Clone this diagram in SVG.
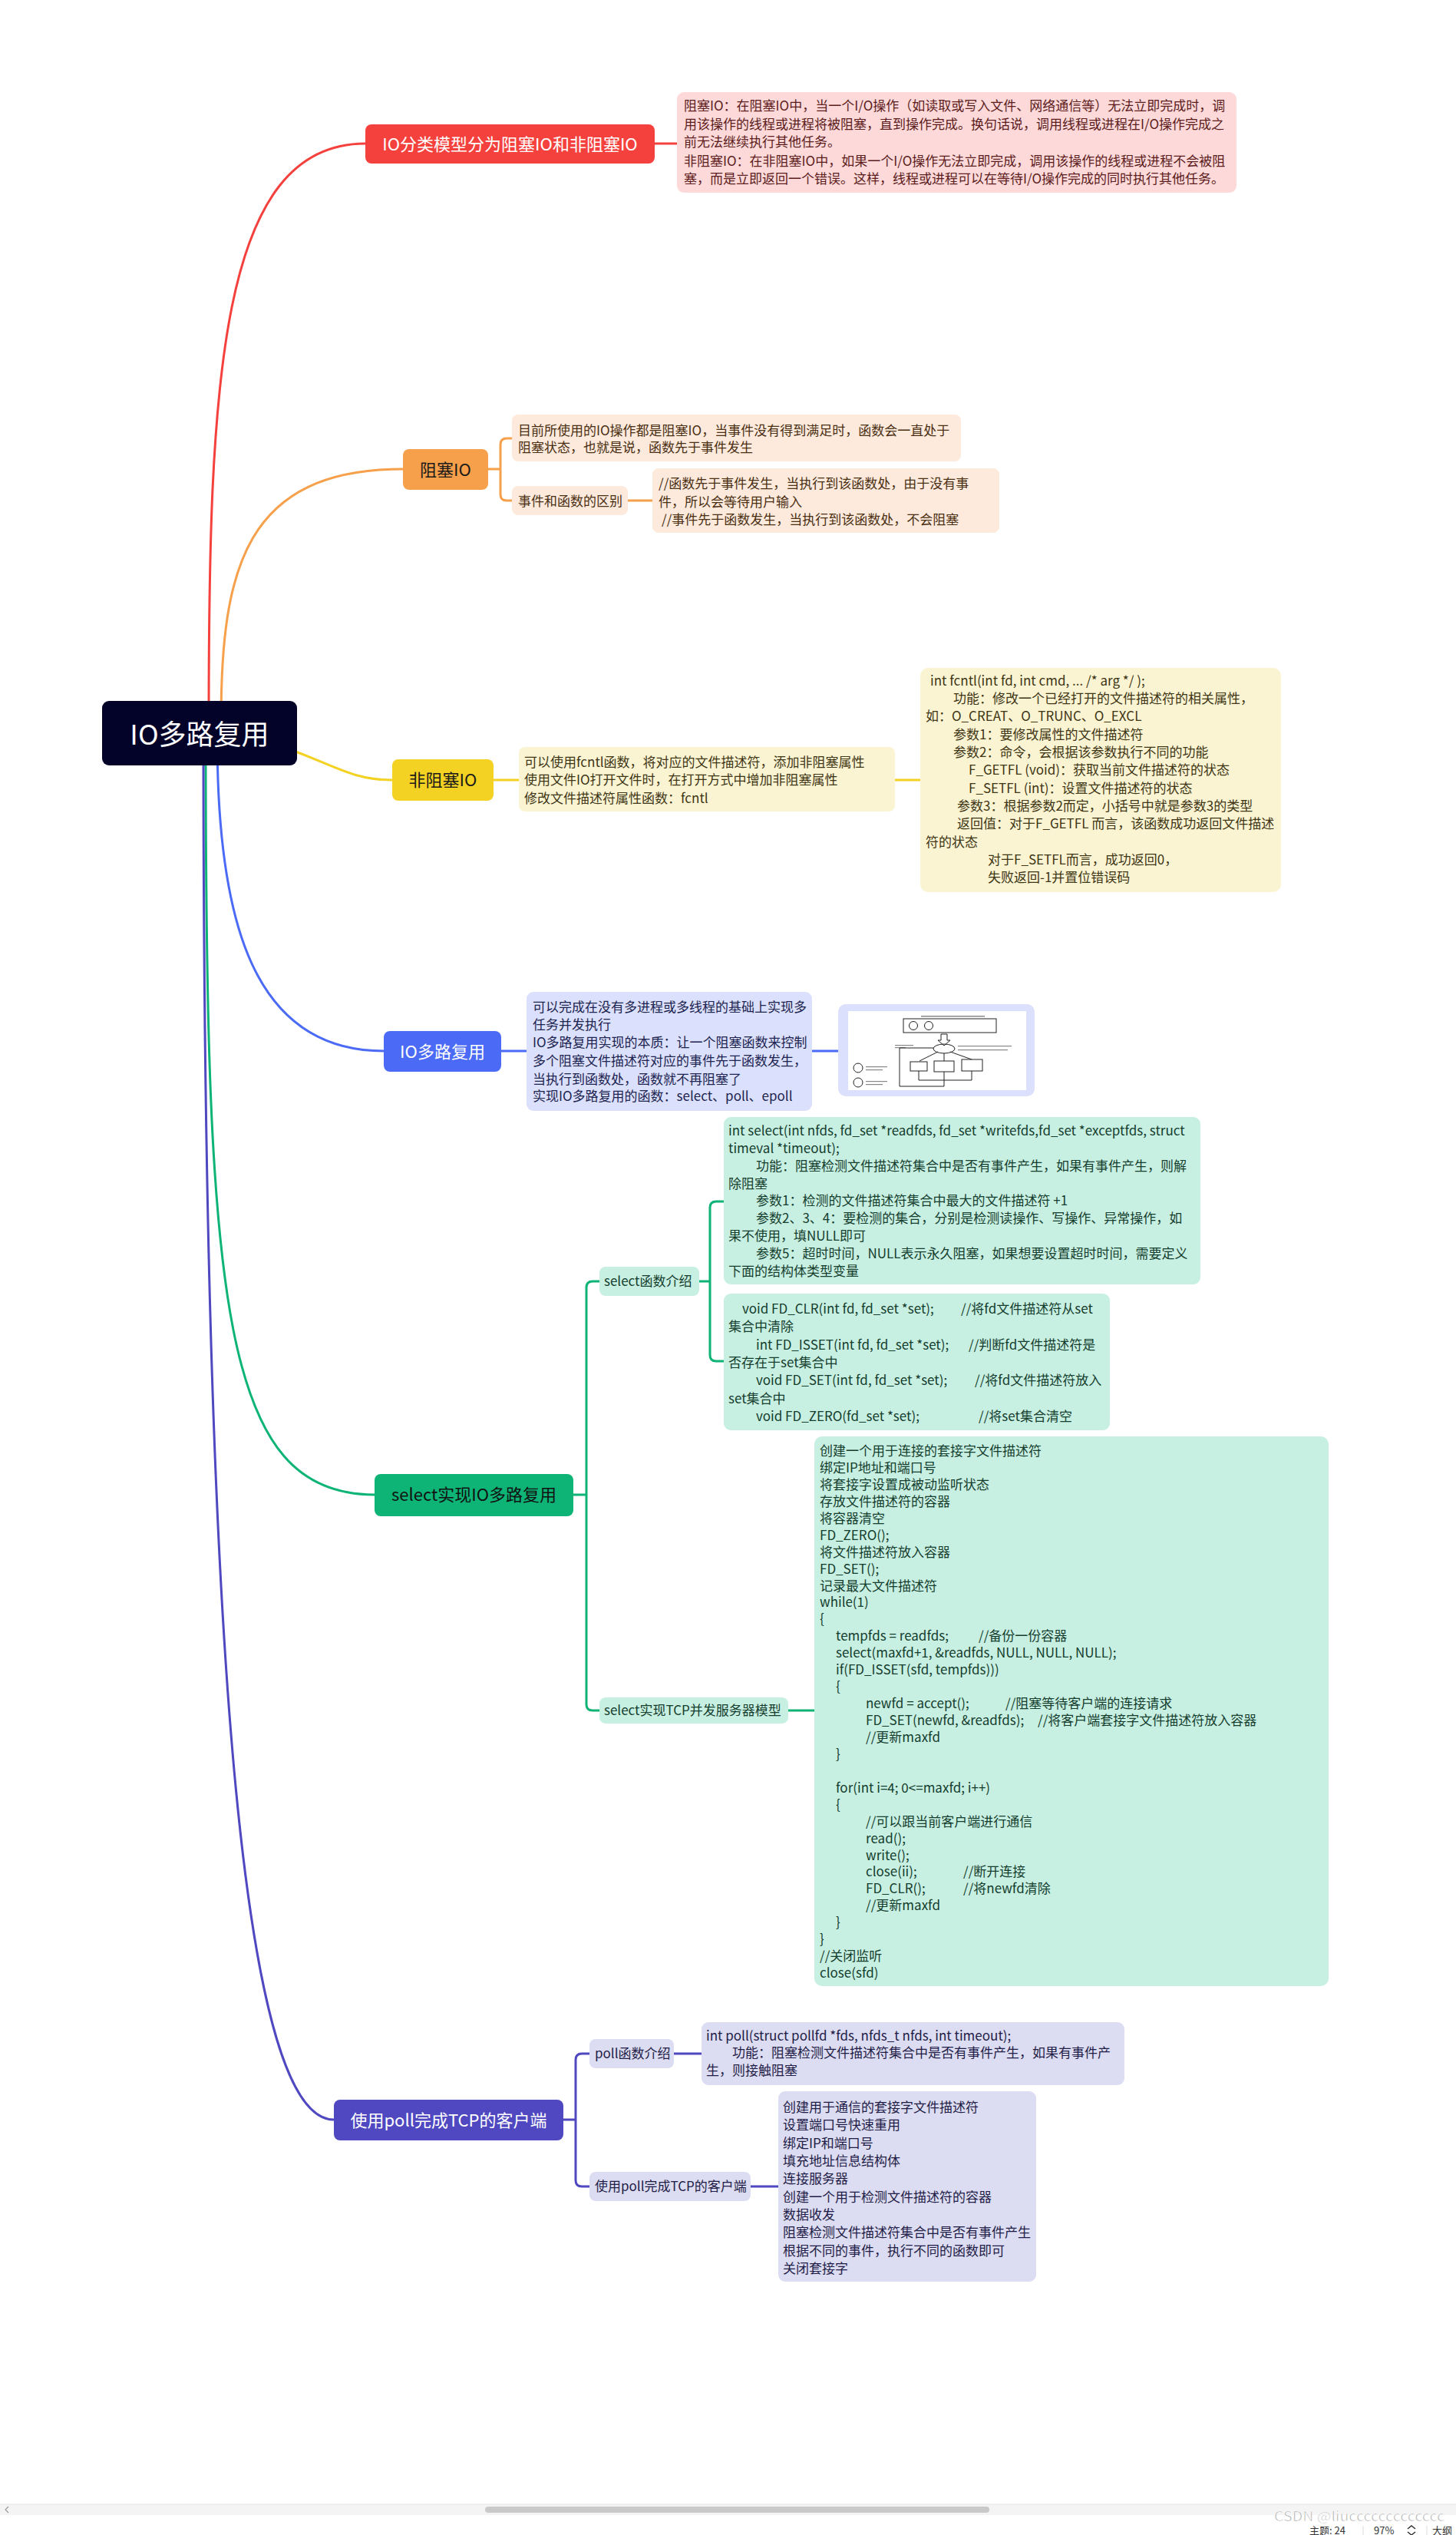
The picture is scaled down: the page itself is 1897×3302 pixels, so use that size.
<svg xmlns="http://www.w3.org/2000/svg" width="1897" height="3302" viewBox="0 0 1897 3302">
<style>
text{font-family:"Noto Sans CJK SC","Noto Sans",sans-serif}
.t{font-size:17px}
.n{font-size:22px;text-anchor:middle}
.s{font-size:17px}
.red{fill:#5c1c1c}.org{fill:#4a2e12}.yel{fill:#3e3514}.blu{fill:#1d2450}.grn{fill:#143d2e}.pur{fill:#1f1c47}
.cr{stroke:#f5413d}.co{stroke:#f7a04b}.cy{stroke:#f3d223}.cb{stroke:#4b6bf6}.cg{stroke:#0db476}.cp{stroke:#4f48c0}
.fl{fill:none;stroke:#222;stroke-width:1}
.tl{fill:#888}
</style>
<rect width="1897" height="3302" fill="#ffffff"/>
<g id="connectors" fill="none" stroke-width="3">
<path class="cr" d="M272 940 C272 500 285 187 476 187"/>
<path class="co" d="M288 940 C288 740 320 611 525 611"/>
<path class="cy" d="M330 960 C430 990 450 1016 511 1016"/>
<path class="cb" d="M283 960 C283 1200 330 1369 500 1369"/>
<path class="cg" d="M268 960 C268 1700 290 1947 488 1947"/>
<path class="cp" d="M265 960 C265 2200 320 2761 435 2761"/>
<path class="cr" d="M853 187 H882"/>
<path class="co" d="M636 611 H652 M667 571 H660 Q652 571 652 579 V644 Q652 652 660 652 H667 M818 652 H850"/>
<path class="cy" d="M643 1016 H676 M1166 1016 H1199"/>
<path class="cb" d="M653 1369 H686 M1058 1369 H1092"/>
<path class="cg" d="M747 1947 H764 M781 1669 H772 Q764 1669 764 1677 V2220 Q764 2228 772 2228 H781"/>
<path class="cg" d="M911 1669 H925 M943 1565 H933 Q925 1565 925 1573 V1765 Q925 1773 933 1773 H943 M1027 2228 H1061"/>
<path class="cp" d="M734 2761 H750 M768 2675 H758 Q750 2675 750 2683 V2840 Q750 2848 758 2848 H768 M878 2675 H914 M978 2848 H1014"/>
</g>
<g id="root">
<rect x="133" y="913" width="254" height="84" rx="9" fill="#03032a"/>
<text x="260" y="970" font-size="36" text-anchor="middle" fill="#ffffff">IO多路复用</text>
</g>
<g id="n-classify">
<rect x="476" y="162" width="377" height="51" rx="8" fill="#f5413d"/>
<text class="n" x="664.5" y="195.5" fill="#ffffff">IO分类模型分为阻塞IO和非阻塞IO</text>
</g>
<g id="n-classify-note">
<rect x="882" y="120" width="729" height="131" rx="9" fill="#fdd9d9"/>
<text class="t red" x="891" y="144">阻塞IO：在阻塞IO中，当一个I/O操作（如读取或写入文件、网络通信等）无法立即完成时，调</text>
<text class="t red" x="891" y="168">用该操作的线程或进程将被阻塞，直到操作完成。换句话说，调用线程或进程在I/O操作完成之</text>
<text class="t red" x="891" y="191">前无法继续执行其他任务。</text>
<text class="t red" x="891" y="216">非阻塞IO：在非阻塞IO中，如果一个I/O操作无法立即完成，调用该操作的线程或进程不会被阻</text>
<text class="t red" x="891" y="239">塞，而是立即返回一个错误。这样，线程或进程可以在等待I/O操作完成的同时执行其他任务。</text>
</g>
<g id="n-block">
<rect x="525" y="585" width="111" height="53" rx="8" fill="#f7a04b"/>
<text class="n" x="580.5" y="619.5" fill="#1a1a1a">阻塞IO</text>
</g>
<g id="n-block-note1">
<rect x="667" y="540" width="585" height="61" rx="8" fill="#fdeadc"/>
<text class="t org" x="675" y="567">目前所使用的IO操作都是阻塞IO，当事件没有得到满足时，函数会一直处于</text>
<text class="t org" x="675" y="589">阻塞状态，也就是说，函数先于事件发生</text>
</g>
<g id="n-block-diff">
<rect x="667" y="633" width="151" height="38" rx="8" fill="#fdeadc"/>
<text class="t org" x="675" y="659">事件和函数的区别</text>
</g>
<g id="n-block-diff-note">
<rect x="850" y="610" width="452" height="84" rx="8" fill="#fdeadc"/>
<text class="t org" x="858" y="636">//函数先于事件发生，当执行到该函数处，由于没有事</text>
<text class="t org" x="858" y="660">件，所以会等待用户输入</text>
<text class="t org" x="862" y="683">//事件先于函数发生，当执行到该函数处，不会阻塞</text>
</g>
<g id="n-nonblock">
<rect x="511" y="989" width="132" height="54" rx="8" fill="#f3d223"/>
<text class="n" x="577" y="1024" fill="#1a1a1a">非阻塞IO</text>
</g>
<g id="n-nonblock-note">
<rect x="676" y="973" width="490" height="84" rx="8" fill="#fbf4d3"/>
<text class="t yel" x="683" y="999">可以使用fcntl函数，将对应的文件描述符，添加非阻塞属性</text>
<text class="t yel" x="683" y="1022">使用文件IO打开文件时，在打开方式中增加非阻塞属性</text>
<text class="t yel" x="683" y="1046">修改文件描述符属性函数：fcntl</text>
</g>
<g id="n-fcntl">
<rect x="1199" y="870" width="470" height="292" rx="10" fill="#fbf4d3"/>
<text class="t yel" x="1212" y="893">int fcntl(int fd, int cmd, ... /* arg */ );</text>
<text class="t yel" x="1242" y="916">功能：修改一个已经打开的文件描述符的相关属性，</text>
<text class="t yel" x="1206" y="939">如：O_CREAT、O_TRUNC、O_EXCL</text>
<text class="t yel" x="1242" y="963">参数1：要修改属性的文件描述符</text>
<text class="t yel" x="1242" y="986">参数2：命令，会根据该参数执行不同的功能</text>
<text class="t yel" x="1262" y="1009">F_GETFL (void)：获取当前文件描述符的状态</text>
<text class="t yel" x="1262" y="1033">F_SETFL (int)：设置文件描述符的状态</text>
<text class="t yel" x="1247" y="1056">参数3：根据参数2而定，小括号中就是参数3的类型</text>
<text class="t yel" x="1247" y="1079">返回值：对于F_GETFL 而言，该函数成功返回文件描述</text>
<text class="t yel" x="1206" y="1103">符的状态</text>
<text class="t yel" x="1287" y="1126">对于F_SETFL而言，成功返回0，</text>
<text class="t yel" x="1287" y="1149">失败返回-1并置位错误码</text>
</g>
<g id="n-mux">
<rect x="500" y="1343" width="153" height="53" rx="8" fill="#4b6bf6"/>
<text class="n" x="576.5" y="1378" fill="#ffffff">IO多路复用</text>
</g>
<g id="n-mux-note">
<rect x="686" y="1292" width="372" height="155" rx="9" fill="#dbe0fc"/>
<text class="t blu" x="694" y="1318">可以完成在没有多进程或多线程的基础上实现多</text>
<text class="t blu" x="694" y="1341">任务并发执行</text>
<text class="t blu" x="694" y="1364">IO多路复用实现的本质：让一个阻塞函数来控制</text>
<text class="t blu" x="694" y="1388">多个阻塞文件描述符对应的事件先于函数发生，</text>
<text class="t blu" x="694" y="1412">当执行到函数处，函数就不再阻塞了</text>
<text class="t blu" x="694" y="1434">实现IO多路复用的函数：select、poll、epoll</text>
</g>
<g id="n-mux-figure">
<rect x="1092" y="1308" width="256" height="120" rx="10" fill="#dbe0fc"/>
<rect x="1105" y="1317" width="232" height="103" fill="#ffffff"/>
<rect class="tl" x="1200" y="1323" width="83" height="1.5"/>
<rect class="fl" x="1177" y="1327" width="121" height="18"/>
<circle class="fl" cx="1190" cy="1336" r="5.5"/>
<circle class="fl" cx="1210" cy="1336" r="5.5"/>
<path class="fl" d="M1226 1347 V1355 H1222 L1230 1362 L1238 1355 H1234 V1347 Z"/>
<ellipse class="fl" cx="1230" cy="1366" rx="14" ry="6"/>
<rect class="tl" x="1166" y="1361" width="24" height="1.2"/>
<rect class="tl" x="1166" y="1364" width="14" height="1.2"/>
<rect class="tl" x="1248" y="1362" width="70" height="1.2"/>
<rect class="tl" x="1248" y="1367" width="65" height="1.2"/>
<rect class="fl" x="1186" y="1383" width="22" height="12"/>
<rect class="fl" x="1217" y="1382" width="26" height="14"/>
<rect class="fl" x="1253" y="1380" width="27" height="15"/>
<path class="fl" d="M1222 1370 L1198 1382 M1230 1372 V1382 M1238 1370 L1266 1380"/>
<path class="fl" d="M1197 1395 V1407 H1266 V1395 M1216 1365 H1172 V1415 H1230 V1396"/>
<circle class="fl" cx="1118" cy="1391" r="6"/>
<circle class="fl" cx="1118" cy="1410" r="6"/>
<rect class="tl" x="1128" y="1389" width="28" height="1.2"/>
<rect class="tl" x="1128" y="1393" width="22" height="1.2"/>
<rect class="tl" x="1128" y="1408" width="28" height="1.2"/>
<rect class="tl" x="1128" y="1412" width="22" height="1.2"/>
</g>
<g id="n-select">
<rect x="488" y="1920" width="259" height="55" rx="8" fill="#0db476"/>
<text class="n" x="617.5" y="1955" fill="#111111">select实现IO多路复用</text>
</g>
<g id="n-select-intro">
<rect x="781" y="1650" width="130" height="38" rx="8" fill="#c8f0e2"/>
<text class="s grn" x="787" y="1675">select函数介绍</text>
</g>
<g id="n-select-sig">
<rect x="943" y="1455" width="621" height="218" rx="9" fill="#c8f0e2"/>
<text class="t grn" x="949" y="1479">int select(int nfds, fd_set *readfds, fd_set *writefds,fd_set *exceptfds, struct</text>
<text class="t grn" x="949" y="1502">timeval *timeout);</text>
<text class="t grn" x="985" y="1525">功能：阻塞检测文件描述符集合中是否有事件产生，如果有事件产生，则解</text>
<text class="t grn" x="949" y="1548">除阻塞</text>
<text class="t grn" x="985" y="1570">参数1：检测的文件描述符集合中最大的文件描述符 +1</text>
<text class="t grn" x="985" y="1593">参数2、3、4：要检测的集合，分别是检测读操作、写操作、异常操作，如</text>
<text class="t grn" x="949" y="1616">果不使用，填NULL即可</text>
<text class="t grn" x="985" y="1639">参数5：超时时间，NULL表示永久阻塞，如果想要设置超时时间，需要定义</text>
<text class="t grn" x="949" y="1662">下面的结构体类型变量</text>
</g>
<g id="n-select-macros">
<rect x="943" y="1685" width="503" height="178" rx="9" fill="#c8f0e2"/>
<text class="t grn" y="1711"><tspan x="967">void FD_CLR(int fd, fd_set *set);</tspan><tspan x="1252">//将fd文件描述符从set</tspan></text>
<text class="t grn" x="949" y="1734">集合中清除</text>
<text class="t grn" y="1758"><tspan x="985">int  FD_ISSET(int fd, fd_set *set);</tspan><tspan x="1262">//判断fd文件描述符是</tspan></text>
<text class="t grn" x="949" y="1781">否存在于set集合中</text>
<text class="t grn" y="1804"><tspan x="985">void FD_SET(int fd, fd_set *set);</tspan><tspan x="1270">//将fd文件描述符放入</tspan></text>
<text class="t grn" x="949" y="1828">set集合中</text>
<text class="t grn" y="1851"><tspan x="985">void FD_ZERO(fd_set *set);</tspan><tspan x="1275">//将set集合清空</tspan></text>
</g>
<g id="n-select-tcp">
<rect x="781" y="2211" width="246" height="34" rx="8" fill="#c8f0e2"/>
<text class="s grn" x="787" y="2234">select实现TCP并发服务器模型</text>
</g>
<g id="n-select-code">
<rect x="1061" y="1871" width="670" height="716" rx="10" fill="#c8f0e2"/>
<text class="t grn" x="1068" y="1896">创建一个用于连接的套接字文件描述符</text>
<text class="t grn" x="1068" y="1918">绑定IP地址和端口号</text>
<text class="t grn" x="1068" y="1940">将套接字设置成被动监听状态</text>
<text class="t grn" x="1068" y="1962">存放文件描述符的容器</text>
<text class="t grn" x="1068" y="1984">将容器清空</text>
<text class="t grn" x="1068" y="2006">FD_ZERO();</text>
<text class="t grn" x="1068" y="2028">将文件描述符放入容器</text>
<text class="t grn" x="1068" y="2050">FD_SET();</text>
<text class="t grn" x="1068" y="2072">记录最大文件描述符</text>
<text class="t grn" x="1068" y="2093">while(1)</text>
<text class="t grn" x="1068" y="2115">{</text>
<text class="t grn" y="2137"><tspan x="1089">tempfds = readfds;</tspan><tspan x="1275">//备份一份容器</tspan></text>
<text class="t grn" x="1089" y="2159">select(maxfd+1, &amp;readfds, NULL, NULL, NULL);</text>
<text class="t grn" x="1089" y="2181">if(FD_ISSET(sfd, tempfds)))</text>
<text class="t grn" x="1089" y="2203">{</text>
<text class="t grn" y="2225"><tspan x="1128">newfd = accept();</tspan><tspan x="1310">//阻塞等待客户端的连接请求</tspan></text>
<text class="t grn" y="2247"><tspan x="1128">FD_SET(newfd, &amp;readfds);</tspan><tspan x="1352">//将客户端套接字文件描述符放入容器</tspan></text>
<text class="t grn" x="1128" y="2269">//更新maxfd</text>
<text class="t grn" x="1089" y="2291">}</text>
<text class="t grn" x="1089" y="2335">for(int i=4; 0&lt;=maxfd; i++)</text>
<text class="t grn" x="1089" y="2357">{</text>
<text class="t grn" x="1128" y="2379">//可以跟当前客户端进行通信</text>
<text class="t grn" x="1128" y="2401">read();</text>
<text class="t grn" x="1128" y="2423">write();</text>
<text class="t grn" y="2444"><tspan x="1128">close(ii);</tspan><tspan x="1255">//断开连接</tspan></text>
<text class="t grn" y="2466"><tspan x="1128">FD_CLR();</tspan><tspan x="1255">//将newfd清除</tspan></text>
<text class="t grn" x="1128" y="2488">//更新maxfd</text>
<text class="t grn" x="1089" y="2510">}</text>
<text class="t grn" x="1068" y="2532">}</text>
<text class="t grn" x="1068" y="2554">//关闭监听</text>
<text class="t grn" x="1068" y="2576">close(sfd)</text>
</g>
<g id="n-poll">
<rect x="435" y="2735" width="299" height="53" rx="8" fill="#4f48c0"/>
<text class="n" x="584.5" y="2770" fill="#ffffff">使用poll完成TCP的客户端</text>
</g>
<g id="n-poll-intro">
<rect x="768" y="2656" width="110" height="38" rx="8" fill="#dcdcf2"/>
<text class="s pur" x="775" y="2681">poll函数介绍</text>
</g>
<g id="n-poll-sig">
<rect x="914" y="2634" width="551" height="82" rx="9" fill="#dcdcf2"/>
<text class="t pur" x="920" y="2658">int poll(struct pollfd *fds, nfds_t nfds, int timeout);</text>
<text class="t pur" x="954" y="2680">功能：阻塞检测文件描述符集合中是否有事件产生，如果有事件产</text>
<text class="t pur" x="920" y="2703">生，则接触阻塞</text>
</g>
<g id="n-poll-client">
<rect x="768" y="2829" width="210" height="38" rx="8" fill="#dcdcf2"/>
<text class="s pur" x="775" y="2854">使用poll完成TCP的客户端</text>
</g>
<g id="n-poll-steps">
<rect x="1014" y="2724" width="336" height="248" rx="9" fill="#dcdcf2"/>
<text class="t pur" x="1020" y="2751">创建用于通信的套接字文件描述符</text>
<text class="t pur" x="1020" y="2774">设置端口号快速重用</text>
<text class="t pur" x="1020" y="2798">绑定IP和端口号</text>
<text class="t pur" x="1020" y="2821">填充地址信息结构体</text>
<text class="t pur" x="1020" y="2844">连接服务器</text>
<text class="t pur" x="1020" y="2868">创建一个用于检测文件描述符的容器</text>
<text class="t pur" x="1020" y="2891">数据收发</text>
<text class="t pur" x="1020" y="2914">阻塞检测文件描述符集合中是否有事件产生</text>
<text class="t pur" x="1020" y="2938">根据不同的事件，执行不同的函数即可</text>
<text class="t pur" x="1020" y="2961">关闭套接字</text>
</g>
<g id="statusbar">
<rect x="0" y="3262" width="1897" height="14" fill="#f4f4f4"/>
<line x1="0" y1="3262" x2="1897" y2="3262" stroke="#e4e4e4" stroke-width="1"/>
<rect x="632" y="3265" width="657" height="8" rx="4" fill="#c9c9c9"/>
<path d="M11 3265 L7 3269 L11 3273" fill="none" stroke="#999" stroke-width="1.2"/>
<text x="1706" y="3301" font-size="13" fill="#333">主题: 24</text>
<line x1="1776" y1="3290" x2="1776" y2="3302" stroke="#ddd"/>
<text x="1790" y="3301" font-size="13" fill="#333">97%</text>
<path d="M1834 3294 L1839 3290 L1844 3294 M1834 3298 L1839 3302 L1844 3298" fill="none" stroke="#333" stroke-width="1.5"/>
<line x1="1859" y1="3290" x2="1859" y2="3302" stroke="#ddd"/>
<text x="1866" y="3301" font-size="13" fill="#333">大纲</text>
<text x="1660" y="3284" font-family="Liberation Sans, sans-serif" font-size="17" textLength="222" lengthAdjust="spacingAndGlyphs" fill="#9a9a9a" fill-opacity="0.85" stroke="#ffffff" stroke-width="0.6">CSDN @liuccccccccccccc</text>
</g>
</svg>
